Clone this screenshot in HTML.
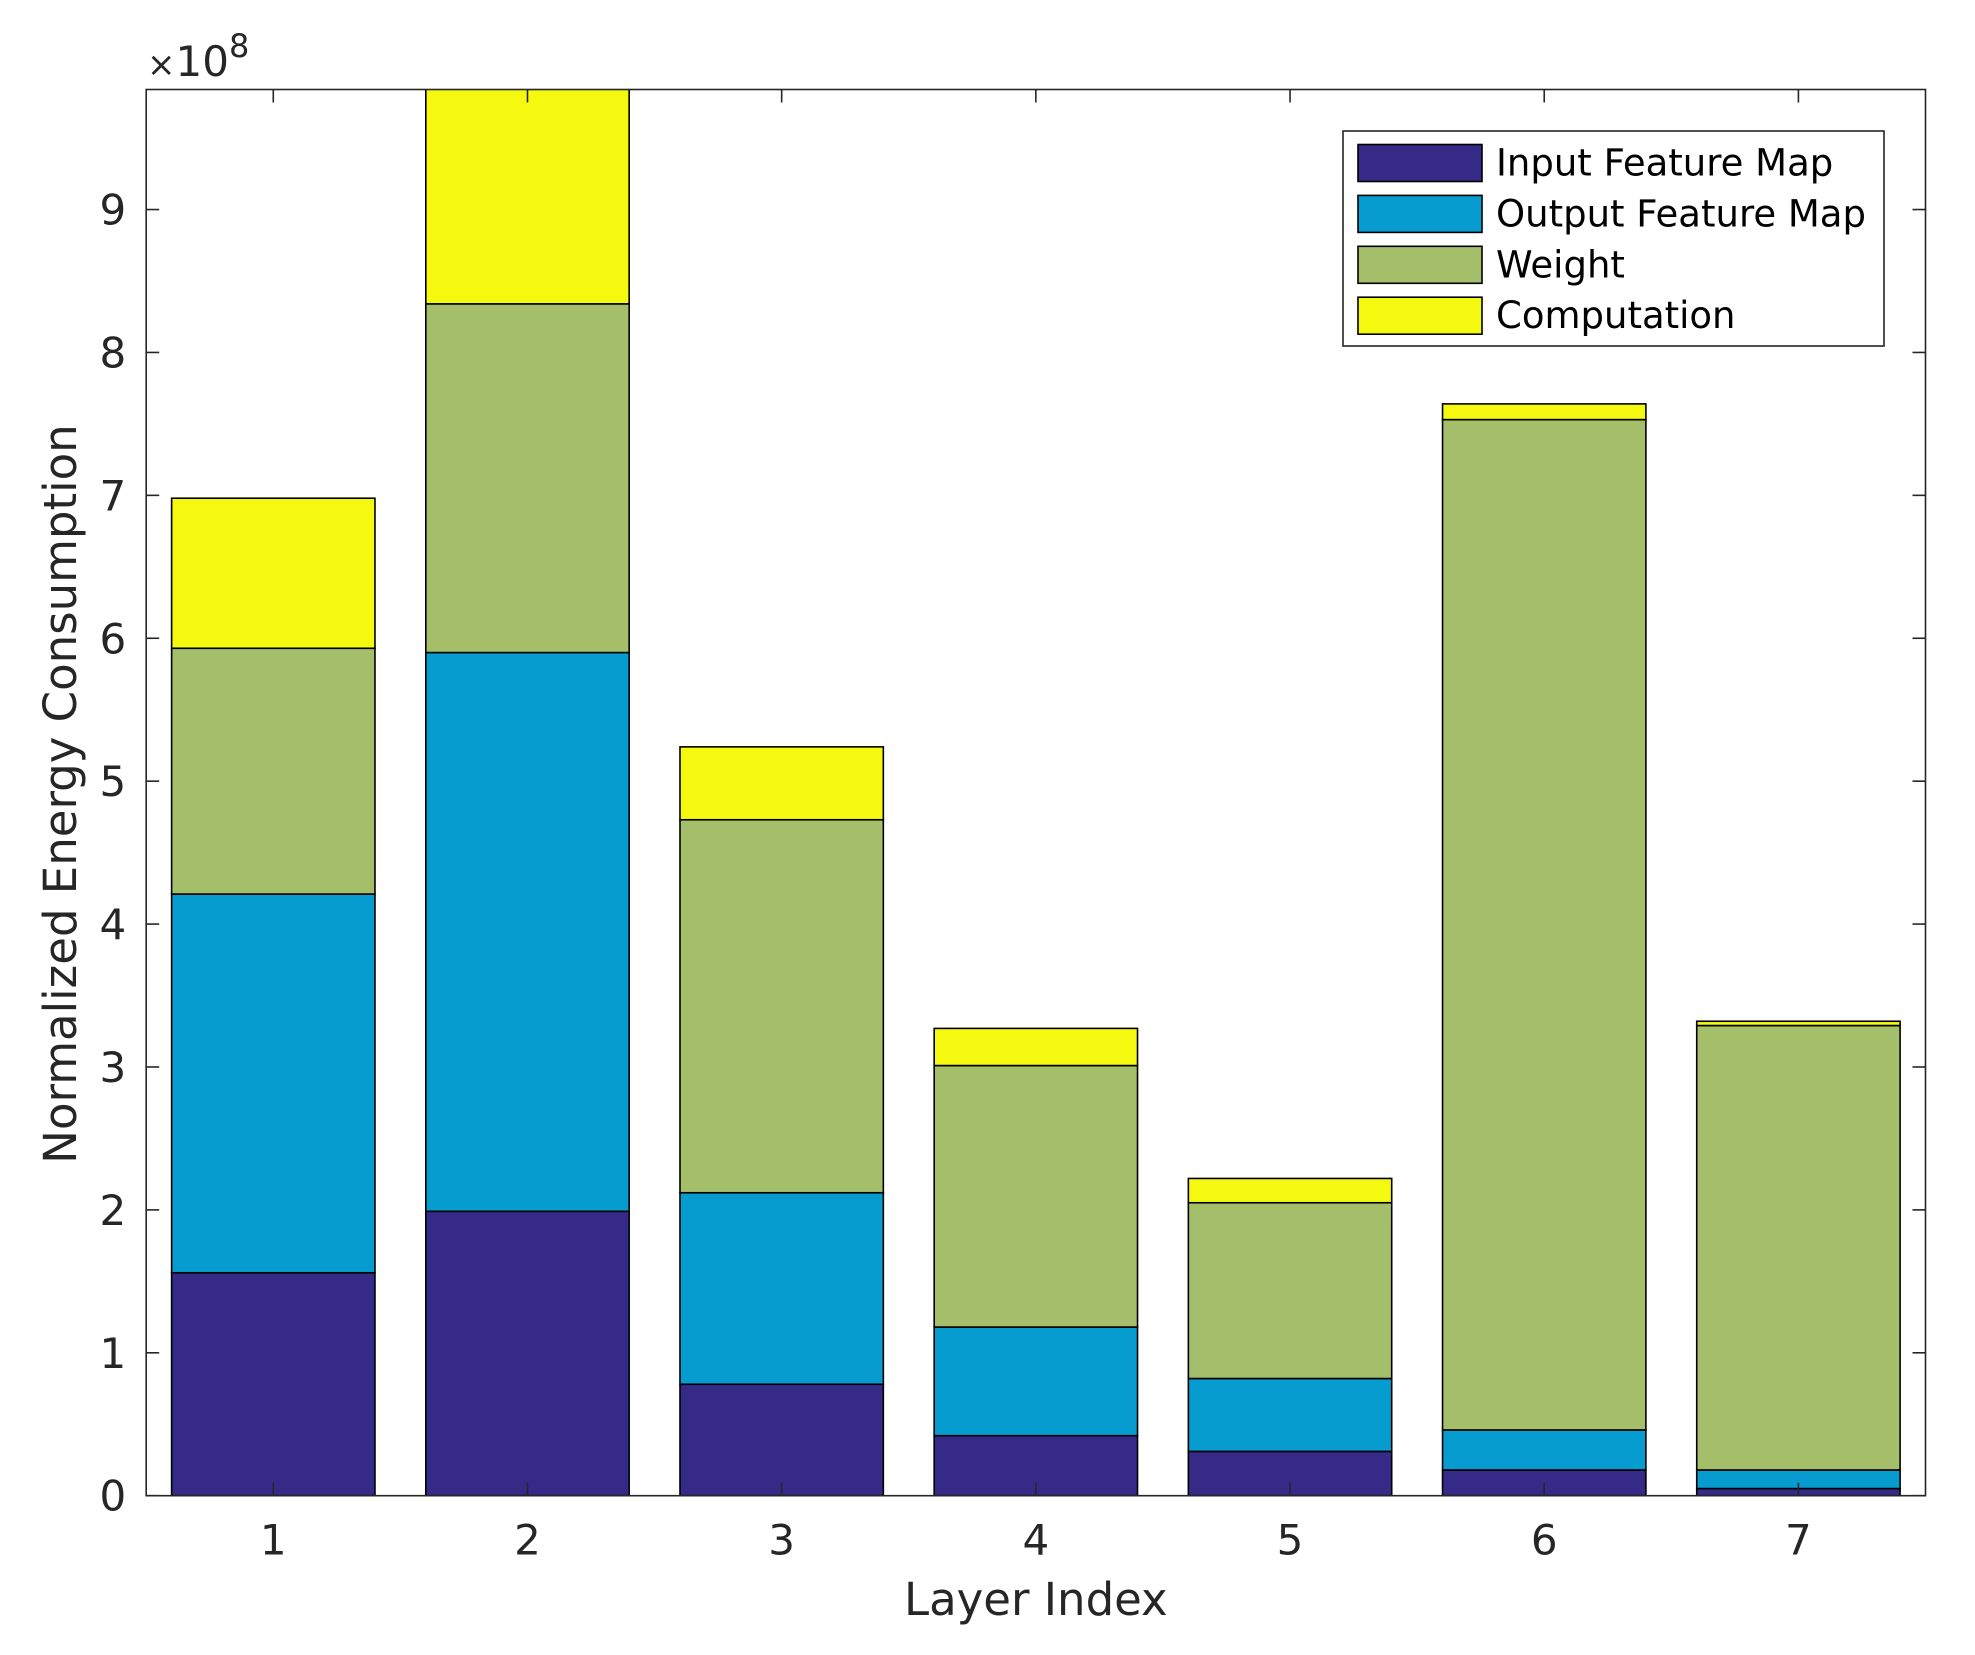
<!DOCTYPE html>
<html><head><meta charset="utf-8"><style>
html,body{margin:0;padding:0;background:#fff;}
svg{display:block;font-family:"DejaVu Sans","Liberation Sans",sans-serif;}
</style></head><body>
<svg id="chart" width="1975" height="1655" viewBox="0 0 1975 1655" xmlns="http://www.w3.org/2000/svg">
<defs><clipPath id="plotclip"><rect x="146.2" y="89.5" width="1779.3" height="1406.2"/></clipPath></defs>
<g id="bars" clip-path="url(#plotclip)"></g>
<g id="axes"></g>
<g id="legend"></g>
</svg>
<script>
const categories = [1, 2, 3, 4, 5, 6, 7];
const seriesNames = ["Input Feature Map", "Output Feature Map", "Weight", "Computation"];
const inputFeatureMap = [1.56, 1.99, 0.78, 0.42, 0.31, 0.18, 0.05];
const outputFeatureMap = [2.65, 3.91, 1.34, 0.76, 0.51, 0.28, 0.13];
const weight = [1.72, 2.44, 2.61, 1.83, 1.23, 7.07, 3.11];
const computation = [1.05, 1.51, 0.51, 0.26, 0.17, 0.11, 0.03];
const yTicks = [0, 1, 2, 3, 4, 5, 6, 7, 8, 9];

const NS = "http://www.w3.org/2000/svg";
const colors = ["#352a87", "#069ccf", "#a5be6a", "#f5f910"];
const series = [inputFeatureMap, outputFeatureMap, weight, computation];
const L = 146.2, R = 1925.5, T = 89.5, B = 1495.7;
const yMax = 9.84;
const xMin = 0.5, xMax = 7.5;
function xs(v){ return L + (v - xMin) / (xMax - xMin) * (R - L); }
function ys(v){ return B - v / yMax * (B - T); }
function mk(tag, attrs, parent){ const e = document.createElementNS(NS, tag); for (const k in attrs) e.setAttribute(k, attrs[k]); parent.appendChild(e); return e; }

const barsG = document.getElementById("bars");
const bw = 0.8;
categories.forEach((c, i) => {
  let base = 0;
  series.forEach((s, j) => {
    const top = base + s[i];
    const r = mk("rect", {x: xs(c - bw/2), y: ys(top), width: xs(c + bw/2) - xs(c - bw/2), height: ys(base) - ys(top), fill: colors[j], stroke: "#000", "stroke-width": 1.6}, barsG);
    
    
    base = top;
  });
});

const ax = document.getElementById("axes");
const frame = mk("rect", {x: L, y: T, width: R - L, height: B - T, fill: "none", stroke: "#262626", "stroke-width": 1.6}, ax);


const tl = 13;
yTicks.forEach(v => {
  const y = ys(v);
  mk("line", {x1: L, x2: L + tl, y1: y, y2: y, stroke: "#262626", "stroke-width": 1.6}, ax);
  mk("line", {x1: R, x2: R - tl, y1: y, y2: y, stroke: "#262626", "stroke-width": 1.6}, ax);
  const t = mk("text", {x: L - 20, y: y + 15, "text-anchor": "end", "font-size": 42, fill: "#262626"}, ax);
  t.textContent = v;
  
  
});
categories.forEach(c => {
  const x = xs(c);
  mk("line", {x1: x, x2: x, y1: B, y2: B - tl, stroke: "#262626", "stroke-width": 1.6}, ax);
  mk("line", {x1: x, x2: x, y1: T, y2: T + tl, stroke: "#262626", "stroke-width": 1.6}, ax);
  const t = mk("text", {x: x, y: B + 59, "text-anchor": "middle", "font-size": 42, fill: "#262626"}, ax);
  t.textContent = c;
  
  
});
const xt = mk("text", {x: (L + R) / 2, y: 1615, "text-anchor": "middle", "font-size": 45, fill: "#262626"}, ax);
xt.textContent = "Layer Index";


const yt = mk("text", {x: 0, y: 0, "text-anchor": "middle", "font-size": 45, fill: "#262626", transform: "translate(76,794) rotate(-90)"}, ax);
yt.textContent = "Normalized Energy Consumption";


const ex = mk("text", {x: 147, y: 76, "font-size": 42, fill: "#262626"}, ax);
ex.innerHTML = '<tspan font-size="34">×</tspan>10<tspan font-size="32" dy="-19">8</tspan>';



const lg = document.getElementById("legend");
const lx = 1343, ly = 131, lw = 541, lh = 215;
mk("rect", {x: lx, y: ly, width: lw, height: lh, fill: "#fff", stroke: "#262626", "stroke-width": 1.6}, lg);
seriesNames.forEach((n, j) => {
  const cy = 162.5 + j * 50.9;
  const e = mk("g", {}, lg);
  
  
  mk("rect", {x: 1358, y: cy - 18, width: 124, height: 37, fill: colors[j], stroke: "#000", "stroke-width": 1.6}, e);
  const t = mk("text", {x: 1496, y: cy + 13, "font-size": 37, fill: "#000"}, e);
  t.textContent = n;
});
</script>
</body></html>
